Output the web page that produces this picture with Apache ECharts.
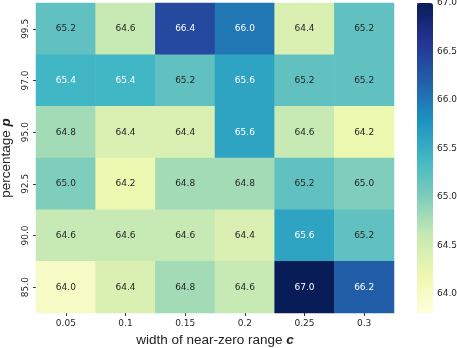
<!DOCTYPE html>
<html>
<head>
<meta charset="utf-8">
<script src="https://cdn.jsdelivr.net/npm/echarts@6/dist/echarts.min.js"></script>
<style>
  html, body { margin: 0; padding: 0; background: #fff; }
  #chart { width: 457px; height: 348px; }
</style>
</head>
<body>
<div id="chart"></div>
<script>
// width of near-zero range c
const widths = ['0.05', '0.1', '0.15', '0.2', '0.25', '0.3']
// percentage p, top row first
const percents = ['99.5', '97.0', '95.0', '92.5', '90.0', '85.0']
// one array per row, same order as percents
const row995 = [65.2, 64.6, 66.4, 66.0, 64.4, 65.2]
const row970 = [65.4, 65.4, 65.2, 65.6, 65.2, 65.2]
const row950 = [64.8, 64.4, 64.4, 65.6, 64.6, 64.2]
const row925 = [65.0, 64.2, 64.8, 64.8, 65.2, 65.0]
const row900 = [64.6, 64.6, 64.6, 64.4, 65.6, 65.2]
const row850 = [64.0, 64.4, 64.8, 64.6, 67.0, 66.2]
const colorbarTicks = [64.0, 64.5, 65.0, 65.5, 66.0, 66.5, 67.0]

const rows = [row995, row970, row950, row925, row900, row850]
const vmin = 63.8, vmax = 67.0
const YlGnBu = ['#ffffd9', '#edf8b1', '#c7e9b4', '#7fcdbb', '#41b6c4', '#1d91c0', '#225ea8', '#253494', '#081d58']

const cells = []
rows.forEach((row, y) => {
  row.forEach((v, x) => {
    cells.push({
      value: [x, y, v],
      label: { color: v > 65.3 ? '#ffffff' : '#262626' }
    })
  })
})

const titleStyle = {
  fontFamily: 'Liberation Sans', fontSize: 13.5, color: '#222',
  rich: { b: { fontFamily: 'Liberation Sans', fontSize: 13.5, fontWeight: 'bold', fontStyle: 'italic', color: '#222' } }
}

const chart = echarts.init(document.getElementById('chart'))
chart.setOption({
  animation: false,
  grid: [
    { left: 36, right: 63, top: 3, bottom: 35, outerBoundsMode: 'none', containLabel: false },
    { left: 417, width: 16, top: 3, height: 310, outerBoundsMode: 'none', containLabel: false }
  ],
  xAxis: [
    {
      type: 'category',
      data: widths,
      gridIndex: 0,
      name: 'width of near-zero range {b|c}',
      nameLocation: 'middle',
      nameGap: 20,
      nameTextStyle: titleStyle,
      axisLine: { show: false },
      axisTick: { show: true, alignWithLabel: true, length: 3, lineStyle: { color: '#333' } },
      axisLabel: { fontFamily: 'DejaVu Sans', fontSize: 9, color: '#262626', margin: 6 },
      splitLine: { show: false }
    },
    { type: 'value', gridIndex: 1, show: false, min: 0, max: 1 }
  ],
  yAxis: [
    {
      type: 'category',
      data: percents,
      inverse: true,
      gridIndex: 0,
      name: 'percentage {b|p}',
      nameLocation: 'middle',
      nameGap: 16,
      nameRotate: 90,
      nameTextStyle: titleStyle,
      axisLine: { show: false },
      axisTick: { show: true, alignWithLabel: true, length: 3, lineStyle: { color: '#333' } },
      axisLabel: { fontFamily: 'DejaVu Sans', fontSize: 9, color: '#262626', rotate: 90, margin: 6 },
      splitLine: { show: false }
    },
    {
      type: 'value',
      gridIndex: 1,
      position: 'right',
      min: vmin,
      max: vmax,
      axisLine: { show: false },
      axisTick: { show: true, length: 3, lineStyle: { color: '#333' }, customValues: colorbarTicks },
      axisLabel: {
        fontFamily: 'DejaVu Sans', fontSize: 9, color: '#262626', margin: 4,
        customValues: colorbarTicks,
        formatter: v => v.toFixed(1)
      },
      splitLine: { show: false }
    }
  ],
  visualMap: {
    type: 'continuous',
    min: vmin,
    max: vmax,
    calculable: false,
    showLabel: false,
    seriesIndex: 0,
    dimension: 2,
    itemWidth: 16,
    itemHeight: 310,
    left: 417,
    top: 3,
    padding: 0,
    inRange: { color: YlGnBu }
  },
  series: [
    {
      type: 'heatmap',
      xAxisIndex: 0,
      yAxisIndex: 0,
      data: cells,
      label: {
        show: true,
        fontFamily: 'DejaVu Sans',
        fontSize: 9,
        formatter: p => p.value[2].toFixed(1)
      },
      itemStyle: { borderWidth: 0 },
      emphasis: { disabled: true }
    }
  ]
})
</script>
</body>
</html>
